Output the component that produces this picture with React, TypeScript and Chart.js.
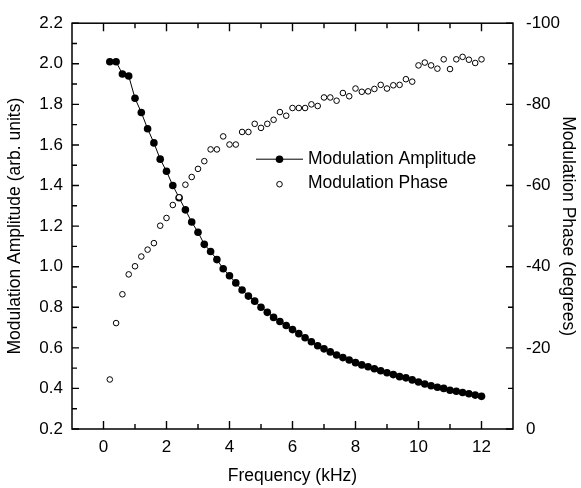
import React, { useEffect, useRef } from 'react';
import { Chart, registerables } from 'chart.js';

Chart.register(...registerables);

const frequency = [
  0.2, 0.4, 0.6, 0.8, 1.0, 1.2, 1.4, 1.6, 1.8, 2.0,
  2.2, 2.4, 2.6, 2.8, 3.0, 3.2, 3.4, 3.6, 3.8, 4.0,
  4.2, 4.4, 4.6, 4.8, 5.0, 5.2, 5.4, 5.6, 5.8, 6.0,
  6.2, 6.4, 6.6, 6.8, 7.0, 7.2, 7.4, 7.6, 7.8, 8.0,
  8.2, 8.4, 8.6, 8.8, 9.0, 9.2, 9.4, 9.6, 9.8, 10.0,
  10.2, 10.4, 10.6, 10.8, 11.0, 11.2, 11.4, 11.6, 11.8, 12.0,
];

const amplitude = [
  2.01, 2.01, 1.95, 1.94, 1.83, 1.76, 1.68, 1.61, 1.53, 1.47,
  1.40, 1.34, 1.28, 1.22, 1.17, 1.11, 1.075, 1.035, 0.99, 0.955,
  0.92, 0.885, 0.855, 0.83, 0.80, 0.775, 0.75, 0.73, 0.71, 0.69,
  0.67, 0.65, 0.63, 0.61, 0.595, 0.58, 0.565, 0.552, 0.54, 0.527,
  0.516, 0.507, 0.497, 0.487, 0.477, 0.468, 0.458, 0.452, 0.442, 0.432,
  0.422, 0.413, 0.406, 0.400, 0.391, 0.386, 0.380, 0.374, 0.367, 0.361,
];

const phase = [
  -12.2, -26.1, -33.2, -38.1, -40.1, -42.5, -44.2, -45.8, -50.1, -52.0,
  -55.2, -57.1, -60.2, -62.1, -64.1, -66.0, -68.9, -68.9, -72.1, -70.1,
  -70.1, -73.2, -73.2, -75.2, -74.2, -75.2, -76.2, -78.1, -77.2, -79.1,
  -79.1, -79.1, -80.0, -79.6, -81.7, -81.7, -80.9, -82.8, -82.0, -83.9,
  -83.1, -83.2, -83.8, -84.8, -83.9, -84.7, -84.8, -86.2, -85.6, -89.6,
  -90.3, -89.6, -88.8, -91.1, -88.7, -91.1, -91.7, -91.0, -90.2, -91.1,
];

const xMajorTicks = [0, 2, 4, 6, 8, 10, 12];
const xMinorTicks = [1, 3, 5, 7, 9, 11];
const ampMajorTicks = [0.2, 0.4, 0.6, 0.8, 1.0, 1.2, 1.4, 1.6, 1.8, 2.0, 2.2];
const ampMinorTicks = [0.3, 0.5, 0.7, 0.9, 1.1, 1.3, 1.5, 1.7, 1.9, 2.1];
const phaseMajorTicks = [0, -20, -40, -60, -80, -100];
const phaseMinorTicks = [-10, -30, -50, -70, -90];

const seriesNames = ['Modulation Amplitude', 'Modulation Phase'];
const xTitle = 'Frequency (kHz)';
const ampTitle = 'Modulation Amplitude (arb. units)';
const phaseTitle = 'Modulation Phase (degrees)';

const FONT = "'Liberation Sans', Arial, Helvetica, sans-serif";

const framePlugin = {
  id: 'frameTicks',
  afterDatasetsDraw(chart: any) {
    const { ctx, chartArea, scales } = chart;
    const { left, right, top, bottom } = chartArea;
    ctx.save();
    ctx.strokeStyle = '#000';
    ctx.lineWidth = 1.5;
    ctx.strokeRect(left, top, right - left, bottom - top);
    ctx.lineWidth = 1.4;
    const major = 8;
    const minor = 5;
    ctx.beginPath();
    const xs = scales.x;
    xMajorTicks.forEach((v) => {
      const p = xs.getPixelForValue(v);
      ctx.moveTo(p, bottom); ctx.lineTo(p, bottom - major);
      ctx.moveTo(p, top); ctx.lineTo(p, top + major);
    });
    xMinorTicks.forEach((v) => {
      const p = xs.getPixelForValue(v);
      ctx.moveTo(p, bottom); ctx.lineTo(p, bottom - minor);
      ctx.moveTo(p, top); ctx.lineTo(p, top + minor);
    });
    const ys = scales.y;
    ampMajorTicks.forEach((v) => {
      const p = ys.getPixelForValue(v);
      ctx.moveTo(left, p); ctx.lineTo(left + 7, p);
    });
    ampMinorTicks.forEach((v) => {
      const p = ys.getPixelForValue(v);
      ctx.moveTo(left, p); ctx.lineTo(left + 5, p);
    });
    const y2 = scales.y2;
    phaseMajorTicks.forEach((v) => {
      const p = y2.getPixelForValue(v);
      ctx.moveTo(right, p); ctx.lineTo(right - 7, p);
    });
    phaseMinorTicks.forEach((v) => {
      const p = y2.getPixelForValue(v);
      ctx.moveTo(right, p); ctx.lineTo(right - 5, p);
    });
    ctx.stroke();

    // legend
    const lx = left + 184;
    const ly1 = top + 136;
    const ly2 = top + 160;
    ctx.lineWidth = 1;
    ctx.beginPath();
    ctx.moveTo(lx, ly1);
    ctx.lineTo(lx + 47, ly1);
    ctx.stroke();
    ctx.fillStyle = '#000';
    ctx.beginPath();
    ctx.arc(lx + 23.5, ly1, 3.8, 0, Math.PI * 2);
    ctx.fill();
    ctx.beginPath();
    ctx.arc(lx + 23.5, ly2 + 1, 2.8, 0, Math.PI * 2);
    ctx.fillStyle = '#fff';
    ctx.fill();
    ctx.stroke();
    ctx.fillStyle = '#000';
    ctx.font = `17.5px ${FONT}`;
    ctx.textBaseline = 'middle';
    ctx.textAlign = 'left';
    ctx.fillText(seriesNames[0], lx + 52, ly1);
    ctx.fillText(seriesNames[1], lx + 52, ly2);
    ctx.restore();
  },
};

export default function App() {
  const ref = useRef<HTMLCanvasElement | null>(null);

  useEffect(() => {
    if (!ref.current) return;
    const tickFont = { family: FONT, size: 17 };
    const titleFont = { family: FONT, size: 17.5 };
    const chart = new Chart(ref.current, {
      type: 'scatter',
      data: {
        datasets: [
          {
            label: seriesNames[1],
            data: frequency.map((f, i) => ({ x: f, y: phase[i] })),
            yAxisID: 'y2',
            showLine: false,
            pointRadius: 2.8,
            pointBackgroundColor: '#fff',
            pointBorderColor: '#000',
            pointBorderWidth: 1,
            order: 0,
          },
          {
            label: seriesNames[0],
            data: frequency.map((f, i) => ({ x: f, y: amplitude[i] })),
            yAxisID: 'y',
            showLine: true,
            borderColor: '#000',
            borderWidth: 1,
            pointRadius: 3.8,
            pointBackgroundColor: '#000',
            pointBorderColor: '#000',
            pointBorderWidth: 0,
            order: 1,
          },
        ],
      },
      options: {
        animation: false,
        responsive: false,
        devicePixelRatio: 1,
        layout: { padding: { top: 18, left: 0, right: 0, bottom: 0 } },
        plugins: { legend: { display: false }, tooltip: { enabled: false } },
        scales: {
          x: {
            type: 'linear',
            position: 'bottom',
            min: -1,
            max: 13,
            grid: { display: false, drawTicks: false },
            border: { display: false },
            afterBuildTicks: (s: any) => { s.ticks = xMajorTicks.map((v) => ({ value: v })); },
            afterFit: (s: any) => { s.height = 59; },
            ticks: { font: tickFont, color: '#000', padding: 8, maxRotation: 0, callback: (v: any) => String(v) },
            title: { display: true, text: xTitle, font: titleFont, color: '#000', padding: { top: 0, bottom: 1.5 } },
          },
          y: {
            type: 'linear',
            position: 'left',
            min: 0.2,
            max: 2.2,
            grid: { display: false, drawTicks: false },
            border: { display: false },
            afterBuildTicks: (s: any) => { s.ticks = ampMajorTicks.map((v) => ({ value: v })); },
            afterFit: (s: any) => { s.width = 72; },
            ticks: { font: tickFont, color: '#000', padding: 9, callback: (v: any) => Number(v).toFixed(1) },
            title: { display: true, text: ampTitle, font: titleFont, color: '#000', padding: { top: 5, bottom: 0 } },
          },
          y2: {
            type: 'linear',
            position: 'right',
            min: -100,
            max: 0,
            reverse: true,
            grid: { display: false, drawTicks: false },
            border: { display: false },
            afterBuildTicks: (s: any) => { s.ticks = phaseMajorTicks.map((v) => ({ value: v })); },
            afterFit: (s: any) => { s.width = 68; },
            ticks: { font: tickFont, color: '#000', padding: 13, callback: (v: any) => String(v) },
            title: { display: true, text: phaseTitle, font: titleFont, color: '#000', padding: { top: 3, bottom: 0 } },
          },
        },
      },
      plugins: [framePlugin],
    } as any);
    return () => chart.destroy();
  }, []);

  return (
    <div style={{ position: 'fixed', left: 0, top: 0, width: 581, height: 488, background: '#fff' }}>
      <canvas ref={ref} width={581} height={488} style={{ width: 581, height: 488 }} />
    </div>
  );
}
